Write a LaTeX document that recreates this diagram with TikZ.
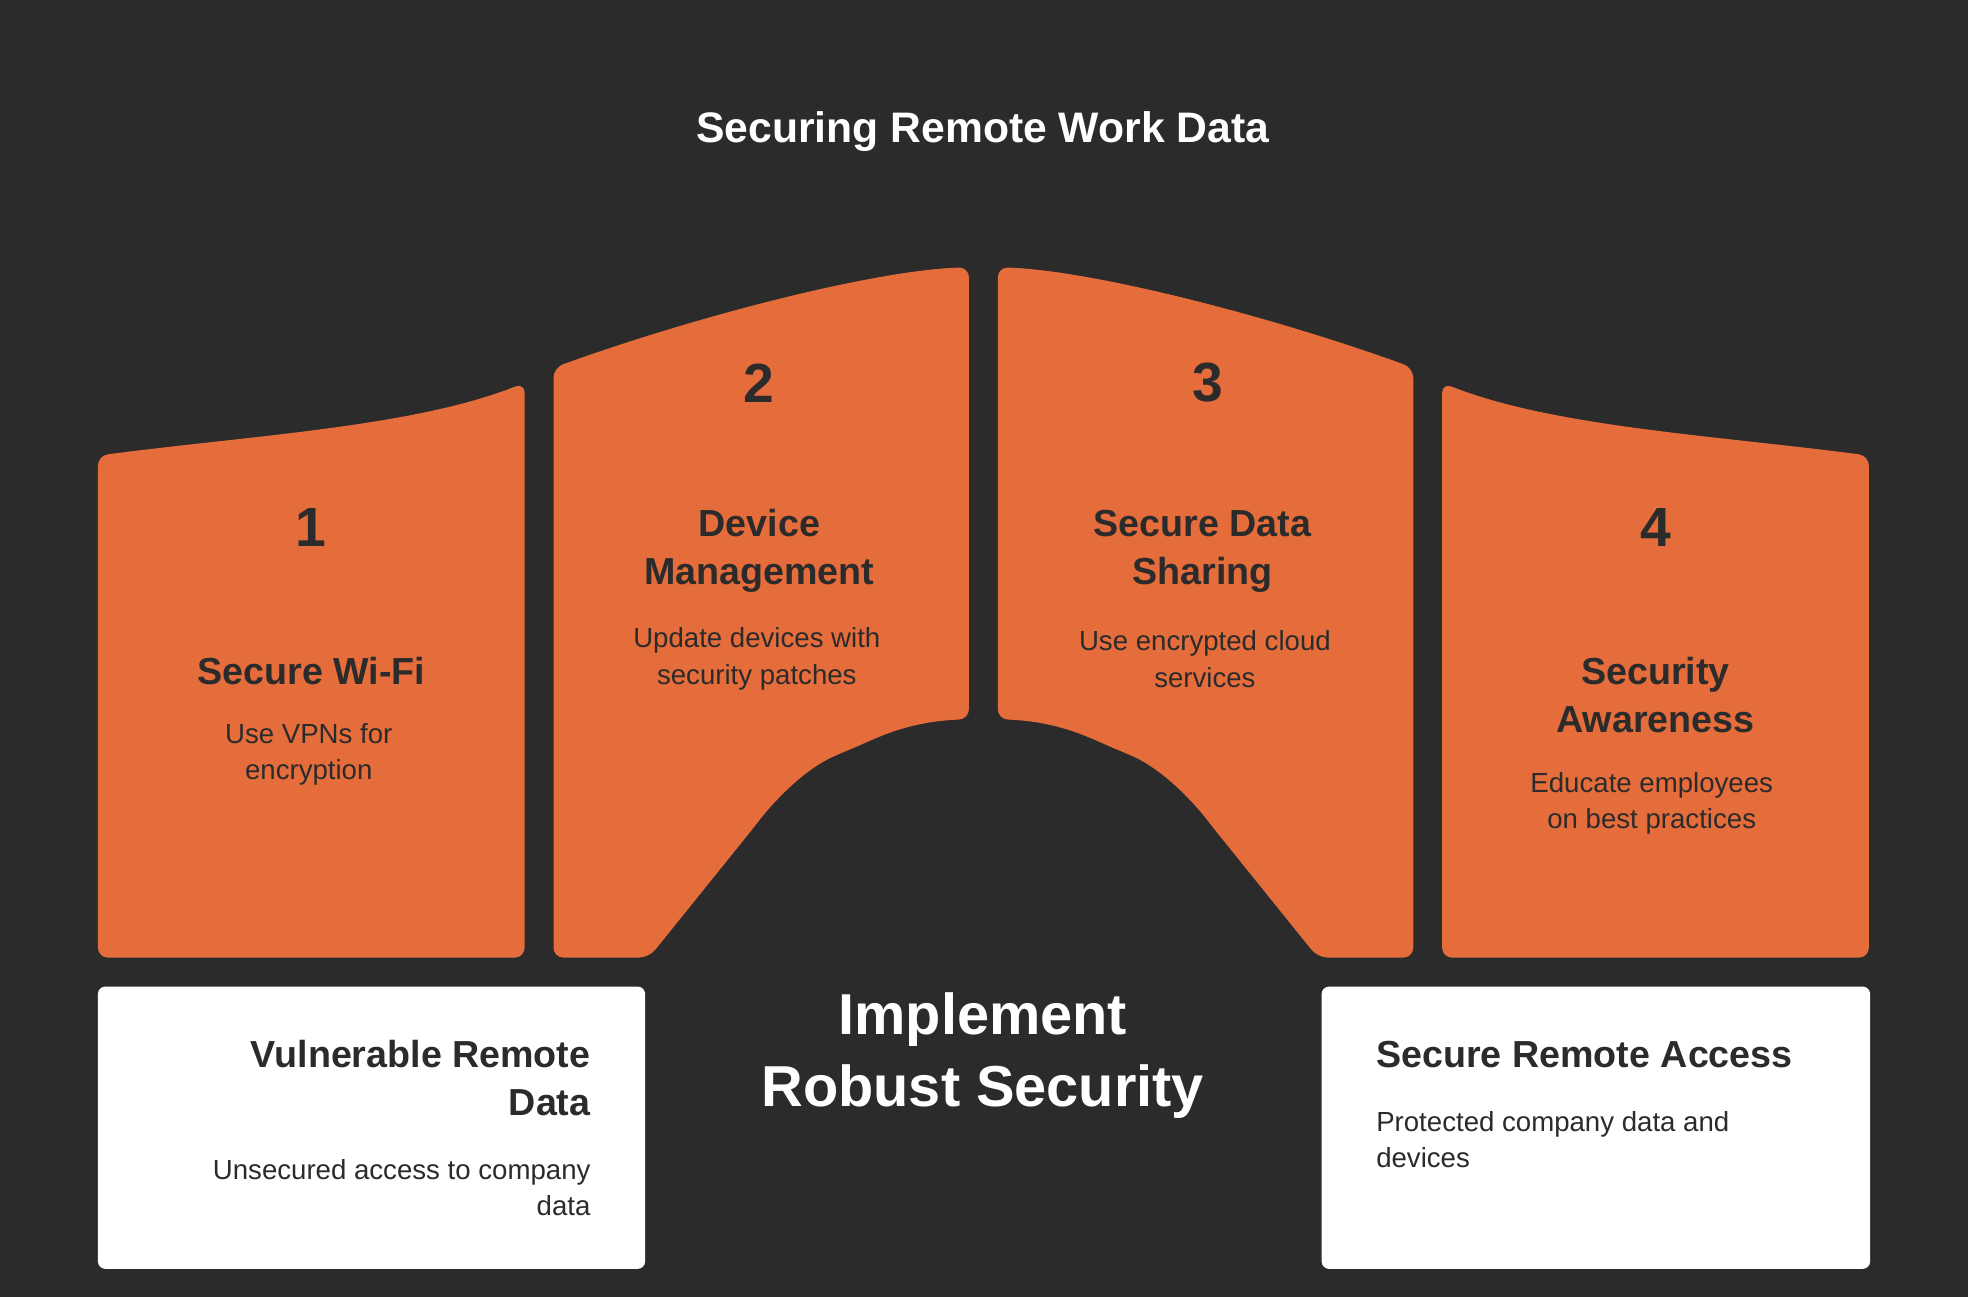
\documentclass[tikz,border=0pt]{standalone}
\usepackage{fontspec}
\setmainfont{Liberation Sans}
\definecolor{bg}{HTML}{2B2B2B}
\definecolor{org}{HTML}{E56C3B}
\definecolor{dk}{HTML}{2B2B2B}
\begin{document}
\begin{tikzpicture}[x=1pt,y=-1pt,
  num/.style={font=\fontsize{44}{50}\selectfont\bfseries,text=dk},
  head/.style={font=\fontsize{30}{38}\selectfont\bfseries,text=dk,align=center},
  desc/.style={font=\fontsize{22}{29}\selectfont,text=dk,align=center},
  blk/.style={fill=org,rounded corners=8pt}]
\fill[bg] (0,0) rectangle (1568,1033);
\useasboundingbox (0,0) rectangle (1568,1033);
\def\shapeA{(78,763) -- (78,363) .. controls (200,347) and (330,340) .. (418,305) -- (418,763) -- cycle}
\def\shapeB{(441,763) -- (441,293) .. controls (560,250) and (700,215) .. (772,213) -- (772,573) .. controls (720,575) and (695,590) .. (670,600) .. controls (640,614) and (617,638) .. (600,660) -- (517,763) -- cycle}
\fill[blk] \shapeA;
\fill[blk] \shapeB;
\begin{scope}[xshift=1567pt,xscale=-1]
\fill[blk] \shapeA;
\fill[blk] \shapeB;
\end{scope}
\fill[white,rounded corners=6pt] (78,786) rectangle (514,1011);
\fill[white,rounded corners=6pt] (1053,786) rectangle (1490,1011);
\node[font=\fontsize{34}{40}\selectfont\bfseries,text=white] (title) at (783,105) {Securing Remote Work Data};
\node[num] (n1) at (248,420) {1};
\node[num] (n2) at (605,305) {2};
\node[num] (n3) at (962,305) {3};
\node[num] (n4) at (1319,420) {4};
\node[head] (h1) at (248,535) {Secure Wi-Fi};
\node[desc] (d1) at (246,601) {Use VPNs for\\encryption};
\node[head] (h2) at (605,439) {Device\\Management};
\node[desc] (d2) at (603,525) {Update devices with\\security patches};
\node[head] (h3) at (958,439) {Secure Data\\Sharing};
\node[desc] (d3) at (960,525) {Use encrypted cloud\\services};
\node[head] (h4) at (1319,554) {Security\\Awareness};
\node[desc] (d4) at (1316,640) {Educate employees\\on best practices};
\node[font=\fontsize{46}{58}\selectfont\bfseries,text=white,align=center] (c) at (783,841) {Implement\\Robust Security};
\node[head,align=right,anchor=east] (lh) at (474,859) {Vulnerable Remote\\Data};
\node[desc,align=right,anchor=east] (ld) at (474,946) {Unsecured access to company\\data};
\node[head,align=left,anchor=west] (rh) at (1093,840) {Secure Remote Access};
\node[desc,align=left,anchor=west] (rd) at (1093,908) {Protected company data and\\devices};
\end{tikzpicture}
\end{document}
